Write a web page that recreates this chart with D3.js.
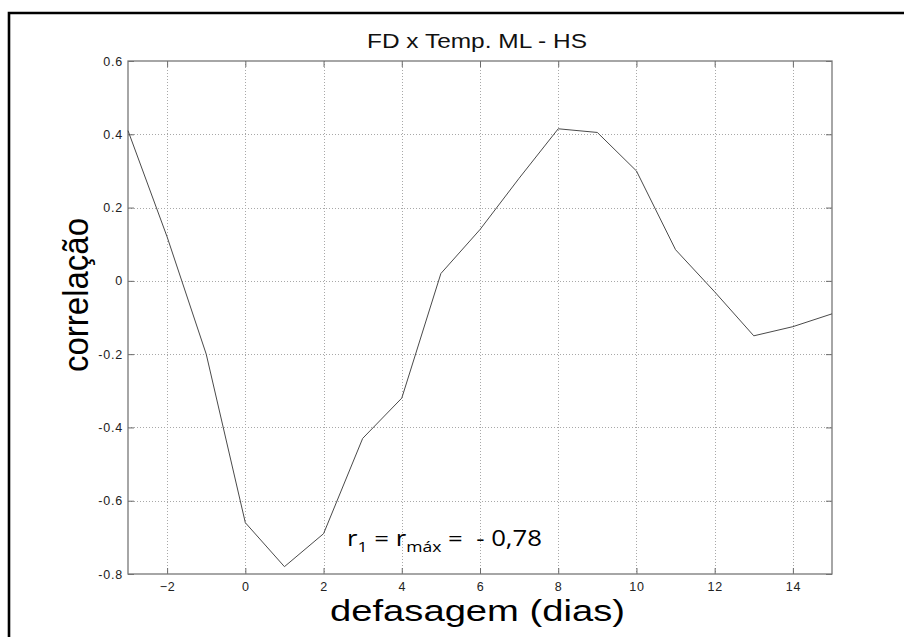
<!DOCTYPE html>
<html>
<head>
<meta charset="utf-8">
<script src="https://cdn.jsdelivr.net/npm/d3@7"></script>
<style>
  html, body { margin: 0; padding: 0; background: #fff; overflow: hidden; }
  svg { display: block; }
</style>
</head>
<body>
<svg id="chart" width="904" height="637"></svg>
<script>
// ---- data ----
const lags = [-3, -2, -1, 0, 1, 2, 3, 4, 5, 6, 7, 8, 9, 10, 11, 12, 13, 14, 15];
const corr = [0.41, 0.12, -0.20, -0.66, -0.78, -0.69, -0.43, -0.32, 0.02, 0.14, 0.28, 0.415, 0.405, 0.30, 0.085, -0.03, -0.15, -0.125, -0.09];
const xTicks = [-2, 0, 2, 4, 6, 8, 10, 12, 14];
const yTicks = [-0.8, -0.6, -0.4, -0.2, 0, 0.2, 0.4, 0.6];
const yTickLabels = ["-0.8", "-0.6", "-0.4", "-0.2", "0", "0.2", "0.4", "0.6"];
const xDomain = [-3, 15];
const yDomain = [-0.8, 0.6];
const titleText = "FD x Temp. ML - HS";
const xLabel = "defasagem (dias)";
const yLabel = "correlação";

// ---- layout ----
const svg = d3.select("#chart");
const L = 128, R = 832, T = 61, B = 574;

const x = d3.scaleLinear().domain(xDomain).range([L, R]);
const y = d3.scaleLinear().domain(yDomain).range([B, T]);

// outer border (top and left edges; the rest runs off the picture)
svg.append("path")
  .attr("d", "M9,700 V13 H910")
  .attr("fill", "none").attr("stroke", "#000").attr("stroke-width", 2.6);

// grid
const grid = svg.append("g").attr("stroke", "#a8a8a8").attr("stroke-width", 1)
  .attr("stroke-dasharray", "1,2").attr("shape-rendering", "crispEdges");
grid.selectAll("line.gx").data(xTicks).join("line")
  .attr("x1", d => Math.round(x(d)) + 0.5).attr("x2", d => Math.round(x(d)) + 0.5)
  .attr("y1", T).attr("y2", B);
grid.selectAll("line.gy").data(yTicks.filter(v => v > yDomain[0] && v < yDomain[1])).join("line")
  .attr("y1", d => Math.round(y(d)) + 0.5).attr("y2", d => Math.round(y(d)) + 0.5)
  .attr("x1", L).attr("x2", R);

// axes
const tickColor = "#6a6a6a";
function styleAxis(g) {
  g.select(".domain").remove();
  g.selectAll(".tick line").attr("stroke", tickColor);
  g.selectAll(".tick text").attr("fill", "#222")
    .attr("font-family", "Liberation Sans, Arial, Helvetica, sans-serif")
    .attr("font-size", 12.5).attr("letter-spacing", "0.8px");
}
svg.append("g").attr("transform", `translate(0,${B})`)
  .call(d3.axisBottom(x).tickValues(xTicks).tickSizeInner(-6).tickSizeOuter(0).tickPadding(8))
  .call(styleAxis);
svg.append("g").attr("transform", `translate(0,${T})`)
  .call(d3.axisTop(x).tickValues(xTicks).tickSizeInner(-6).tickSizeOuter(0).tickFormat(""))
  .call(styleAxis);
svg.append("g").attr("transform", `translate(${L},0)`)
  .call(d3.axisLeft(y).tickValues(yTicks).tickSizeInner(-6).tickSizeOuter(0).tickPadding(5)
    .tickFormat((d, i) => yTickLabels[i]))
  .call(styleAxis);
svg.append("g").attr("transform", `translate(${R},0)`)
  .call(d3.axisRight(y).tickValues(yTicks).tickSizeInner(-6).tickSizeOuter(0).tickFormat(""))
  .call(styleAxis);

// frame
svg.append("rect")
  .attr("x", L).attr("y", T).attr("width", R - L).attr("height", B - T)
  .attr("fill", "none").attr("stroke", "#777").attr("stroke-width", 1.3);

// data line
const line = d3.line().x((d, i) => x(lags[i])).y(d => y(d));
svg.append("path").datum(corr)
  .attr("d", line).attr("fill", "none")
  .attr("stroke", "#4a4a4a").attr("stroke-width", 1);

// title
svg.append("text")
  .attr("x", 367).attr("y", 48)
  .attr("textLength", 220).attr("lengthAdjust", "spacingAndGlyphs")
  .attr("font-family", "Liberation Sans, Arial, Helvetica, sans-serif")
  .attr("font-size", 21).attr("fill", "#111")
  .text(titleText);

// x label
svg.append("text")
  .attr("x", 330).attr("y", 621)
  .attr("textLength", 295).attr("lengthAdjust", "spacingAndGlyphs")
  .attr("font-family", "Liberation Sans, Arial, Helvetica, sans-serif")
  .attr("font-size", 30).attr("fill", "#000")
  .text(xLabel);

// y label
svg.append("text")
  .attr("transform", "translate(88,295) scale(1.08,1) rotate(-90)")
  .attr("text-anchor", "middle")
  .attr("font-family", "Liberation Sans, Arial, Helvetica, sans-serif")
  .attr("font-size", 33).attr("fill", "#000")
  .text(yLabel);

// annotation
const ann = svg.append("text")
  .attr("x", 347).attr("y", 546)
  .attr("textLength", 195).attr("lengthAdjust", "spacingAndGlyphs")
  .attr("font-family", "Open Sans, Noto Sans, sans-serif")
  .attr("font-size", 22).attr("fill", "#000")
  .style("white-space", "pre");
ann.append("tspan").text("r");
ann.append("tspan").attr("font-size", 15).attr("dy", 6).text("1");
ann.append("tspan").attr("dy", -6).text(" = r");
ann.append("tspan").attr("font-size", 15).attr("dy", 6).text("máx");
ann.append("tspan").attr("dy", -6).text(" =  - 0,78");
</script>
</body>
</html>
